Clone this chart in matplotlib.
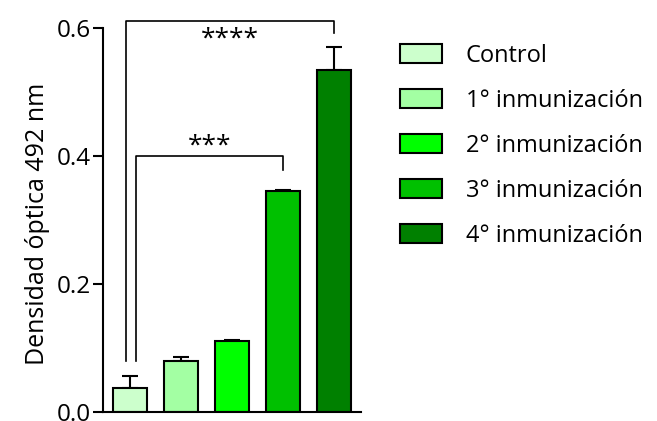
import matplotlib.pyplot as plt

plt.rcParams["font.family"] = ["Open Sans", "DejaVu Sans"]

groups = ["Control", "1° inmunización", "2° inmunización", "3° inmunización", "4° inmunización"]
means = [0.0375, 0.080, 0.111, 0.345, 0.534]
errors = [0.019, 0.006, 0.002, 0.002, 0.037]
colors = ["#CCFFCC", "#A3FFA3", "#00FF00", "#00C000", "#008000"]
yticks = [0.0, 0.2, 0.4, 0.6]

# significance brackets: (x_left, x_right, y_top, left_bottom, right_bottom, label, label_y)
brackets = [
    (-0.07, 4.0, 0.611, 0.08, 0.592, "****", 0.583),
    (0.12, 3.0, 0.400, 0.08, 0.378, "***", 0.415),
]

fig = plt.figure(figsize=(6.57, 4.21), dpi=100)
ax = fig.add_axes([0.157, 0.0214, 0.3925, 0.912])

x = range(len(groups))
ax.bar(x, means, width=0.66, color=colors, edgecolor="black", linewidth=1.5,
       label=groups, zorder=2)
ax.errorbar(x, means, yerr=[[0] * len(errors), errors], fmt="none", ecolor="black",
            elinewidth=1.5, capsize=5.5, capthick=1.5, zorder=1)

for xl, xr, yt, lb, rb, lab, ly in brackets:
    ax.plot([xl, xl, xr, xr], [lb, yt, yt, rb], color="black", lw=1.2, clip_on=False)
    ax.text((xl + xr) / 2, ly, lab, ha="center", va="center", fontsize=19)

ax.set_xlim(-0.52, 4.53)
ax.set_ylim(0, 0.6)
ax.set_yticks(yticks)
ax.set_yticklabels([f"{t:.1f}" for t in yticks], fontsize=17.5)
ax.set_xticks([])
ax.set_ylabel("Densidad óptica 492 nm", fontsize=18, labelpad=10)
ax.yaxis.set_label_coords(-0.205, 0.49)
for side in ["top", "right"]:
    ax.spines[side].set_visible(False)
for side in ["left", "bottom"]:
    ax.spines[side].set_linewidth(1.5)
ax.tick_params(axis="y", length=7, width=1.5, direction="out", pad=2)

handles, labels = ax.get_legend_handles_labels()
fig.legend(handles, labels, loc="upper left", bbox_to_anchor=(0.609, 0.896),
           frameon=False, fontsize=17, handlelength=1.78, handleheight=0.89,
           labelspacing=0.89, handletextpad=1.0, borderpad=0, borderaxespad=0)

fig.savefig("out.png", dpi=100)
